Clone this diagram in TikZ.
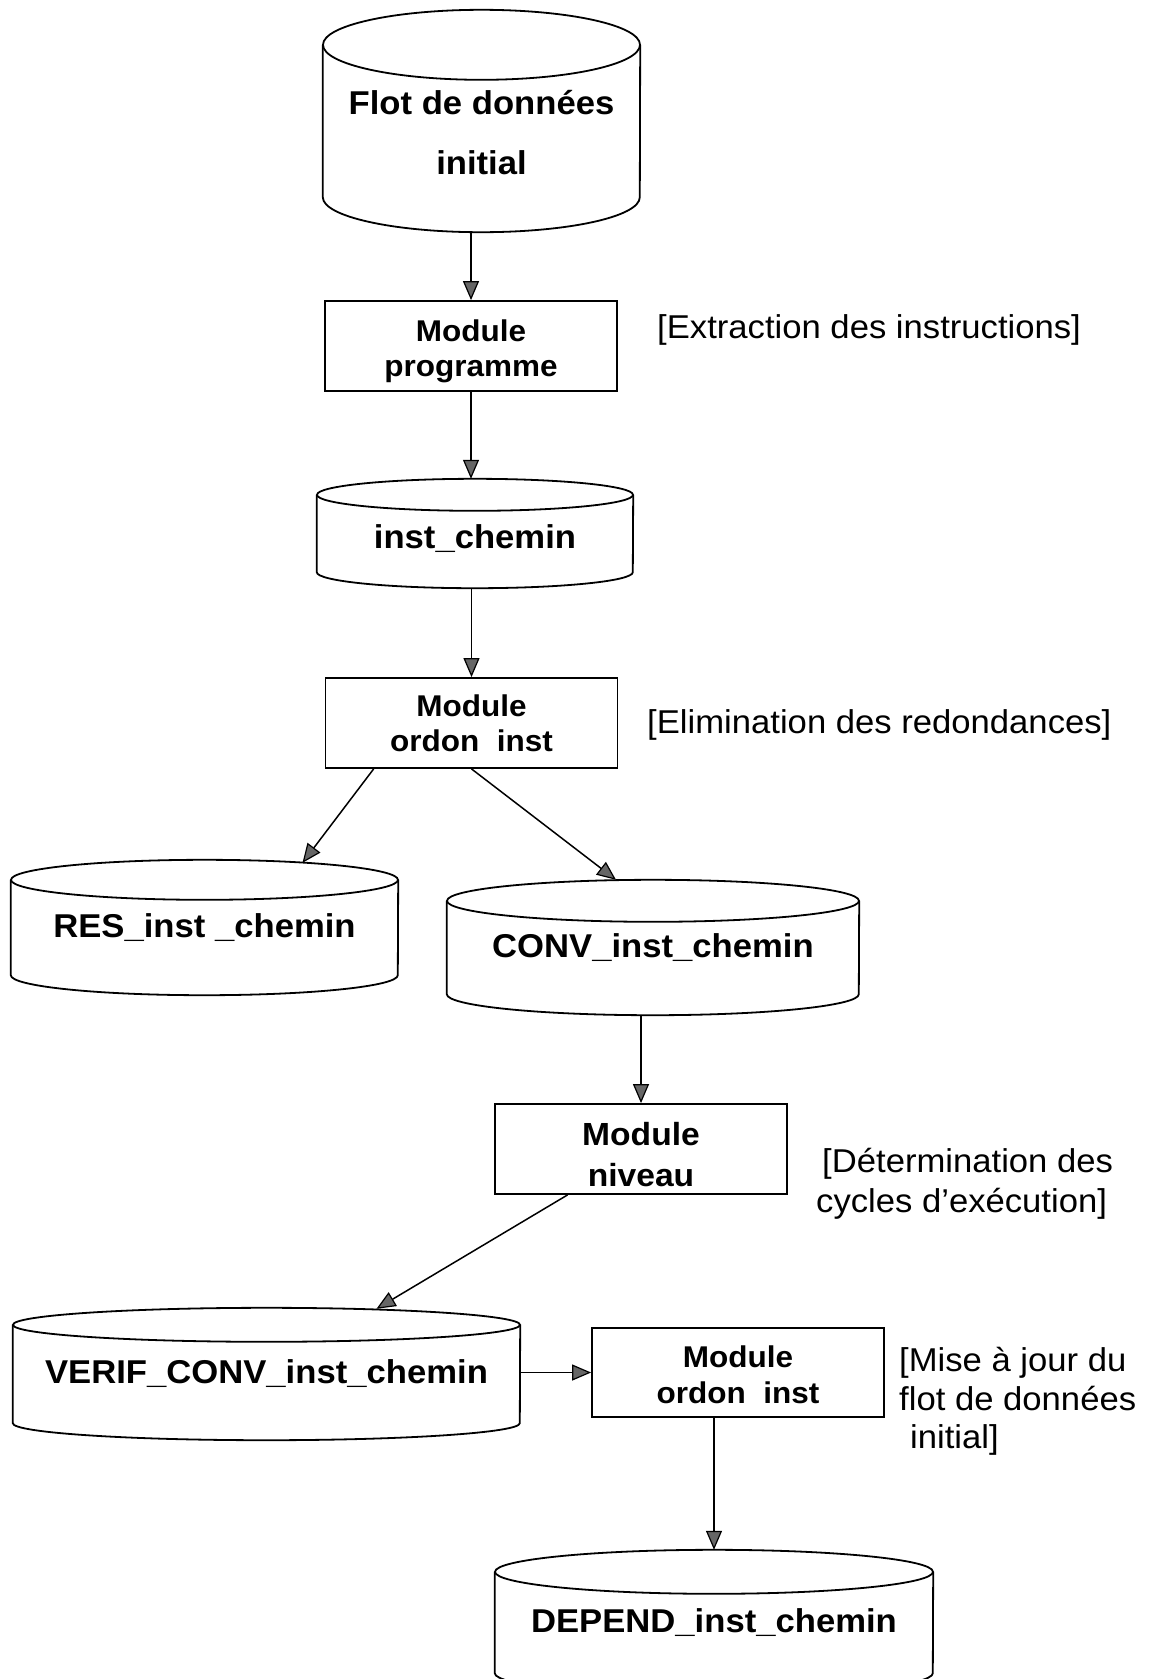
\documentclass[tikz,border=0pt]{standalone}
\usepackage{fontspec}
\setmainfont{Liberation Sans}[FakeStretch=1.05]
\usetikzlibrary{arrows.meta,calc}

% outline of a data store: sides, lower half-ellipse and full upper ellipse
% #1 node name, #2 x radius (pt), #3 y radius (pt)
\newcommand\drumoutline[3]{%
  \draw[outline] ($(#1.north west)+(0pt,-#3pt)$) -- ($(#1.south west)+(0pt,#3pt)$)
    arc[start angle=180, end angle=360, x radius=#2pt, y radius=#3pt]
    -- ($(#1.north east)+(0pt,-#3pt)$);
  \draw[outline] ($(#1.north)+(0pt,-#3pt)$) ellipse[x radius=#2pt, y radius=#3pt];
}
% invisible strut that lowers the first line of a module label
\newcommand\toppad[1]{\rule{0pt}{#1}}

\tikzset{
  outline/.style={draw=black, line width=1.8pt},
  modbox/.style={draw=black, line width=1.8pt, inner sep=0pt,
    minimum width=292pt, minimum height=90pt, align=center,
    font=\fontsize{30}{35}\selectfont\bfseries},
  drum/.style={inner sep=0pt, align=center,
    font=\fontsize{33}{40}\selectfont\bfseries},
  note/.style={inner sep=0pt, align=left,
    font=\fontsize{33}{38}\selectfont},
  flow/.style={line width=1.5pt,
    -{Triangle[length=19pt,width=16pt,fill=black!60,line width=1.2pt]}},
}

\begin{document}
\begin{tikzpicture}[x=1pt, y=-1pt]
  \useasboundingbox (0,0) rectangle (1150,1679);
  \fill[white] (0,0) rectangle (1150,1679);
  \clip (0,0) rectangle (1150,1679);

  % data stores
  \node[drum, minimum width=317pt, minimum height=222pt] (flot) at (481.5,121) {};
  \node[drum, font=\fontsize{33}{60}\selectfont\bfseries] (flotlbl) at (481.5,133)
    {Flot de données\\initial};
  \node[drum, minimum width=316pt, minimum height=109pt, text height=30pt, text depth=0pt]
    (inst) at (475,533.5) {inst\_chemin};
  \node[drum, minimum width=387pt, minimum height=135pt] (res) at (204.5,927.5) {RES\_inst \_chemin};
  \node[drum, minimum width=412pt, minimum height=135pt] (conv) at (653,947.5) {CONV\_inst\_chemin};
  \node[drum, minimum width=507pt, minimum height=132pt] (verif) at (266.5,1374) {VERIF\_CONV\_inst\_chemin};
  \node[drum, minimum width=438pt, minimum height=145pt] (dep) at (714,1622.5) {DEPEND\_inst\_chemin};

  \drumoutline{flot}{158.5}{35}
  \drumoutline{inst}{158}{16}
  \drumoutline{res}{193.5}{20}
  \drumoutline{conv}{206}{21}
  \drumoutline{verif}{253.5}{17}
  \drumoutline{dep}{219}{22}

  % processing modules
  \node[modbox] (prog) at (471,346) {\toppad{32pt}Module\\programme};
  \node[modbox] (ordA) at (471.5,723) {Module\\ordon~ inst};
  \node[modbox, font=\fontsize{32}{41}\selectfont\bfseries] (niv) at (641,1149)
    {\toppad{33.5pt}Module\\niveau};
  \node[modbox, minimum height=89pt, font=\fontsize{30}{36}\selectfont\bfseries] (ordB) at (738,1372.5)
    {\toppad{27pt}Module\\ordon~ inst};

  % step descriptions
  \node[note, anchor=base west] (n1) at (657,338) {[Extraction des instructions]};
  \node[note, anchor=base west] (n2) at (647,733) {[Elimination des redondances]};
  \node[note, anchor=north west, font=\fontsize{33}{40}\selectfont] (n3) at (816,1148)
    {\hspace*{6pt}[Détermination des\\cycles d’exécution]};
  \node[note, anchor=north west, font=\fontsize{33}{38.5}\selectfont] (n4) at (899,1347)
    {[Mise à jour du\\flot de données\\\hspace*{11pt}initial]};

  % data flow
  \draw[flow] (flot.south -| prog.north) -- (prog.north);
  \draw[flow] (prog.south) -- (prog.south |- inst.north);
  \draw[flow] (inst.south -| ordA.north) -- (ordA.north);
  \draw[flow] ($(ordA.south west)!0.167!(ordA.south east)$) -- ($(res.north)+(98pt,-3pt)$);
  \draw[flow] (ordA.south) -- ($(conv.north)+(-37pt,0pt)$);
  \draw[flow] (conv.south -| niv.north) -- (niv.north);
  \draw[flow] ($(niv.south west)!0.25!(niv.south east)$) -- ($(verif.north)+(110pt,-1pt)$);
  \draw[flow] (verif.east |- ordB.west) -- (ordB.west);
  \draw[flow] (ordB.south -| dep.north) -- (dep.north);
\end{tikzpicture}
\end{document}
